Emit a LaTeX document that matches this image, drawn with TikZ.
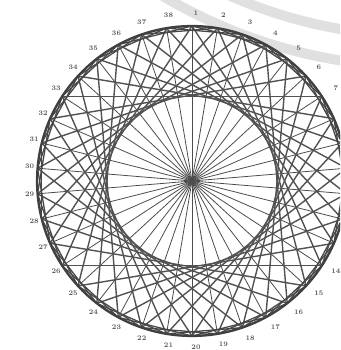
\documentclass[tikz,border=0pt]{standalone}
\usepackage{amsmath,amssymb,amsfonts}

\begin{document}
\begin{tikzpicture}[x=1pt,y=-1pt,
    rim/.style={draw=black!75, line width=2.2pt},
    spoke/.style={draw=black!70, line width=0.8pt},
    chord/.style={draw=black!68, line width=1.4pt},
    band/.style={draw=black!72, line width=1.3pt},
    seal/.style={draw=black!12, line width=10pt},
    num/.style={font=\scriptsize\bfseries, text=black!65, inner sep=0pt}]
    \useasboundingbox (0,0) rectangle (340,350);
    \clip (0,0) rectangle (340,350);
    % Faded seal in the background
    \draw[seal] (422,-441) circle[radius=508];
    \draw[seal] (422,-441) circle[radius=477];
    % Pins round the circle
    \coordinate (c) at (192,181);
    \foreach \i in {1,...,38} {
        \pgfmathsetmacro\a{(\i-1)*360/38}
        \coordinate (p\i) at ({192+155*sin(\a)},{181-155*cos(\a)});
    }
    % Pin numbers (8 to 13 fall outside the page)
    \foreach \i in {1,...,7,14,15,...,38} {
        \pgfmathsetmacro\a{(\i-1)*360/38}
        \node[num] (l\i) at ({196+167*sin(\a)},{180-167*cos(\a)}) {\i};
    }
    % Spokes from the centre
    \foreach \i in {1,...,38}
        \draw[spoke] (c) -- (p\i);
    % Strings: each pin to the 12th pin on
    \foreach \i in {1,...,38} {
        \pgfmathtruncatemacro\j{mod(\i+11,38)+1}
        \draw[chord] (p\i) -- (p\j);
    }
    % Strings near the rim
    \foreach \i in {1,...,38} {
        \pgfmathtruncatemacro\j{mod(\i+2,38)+1}
        \pgfmathtruncatemacro\k{mod(\i,38)+1}
        \draw[band] (p\i) -- (p\j);
        \draw[band] (p\i) -- (p\k);
    }
    \draw[rim] (c) circle[radius=155];
\end{tikzpicture}
\end{document}
